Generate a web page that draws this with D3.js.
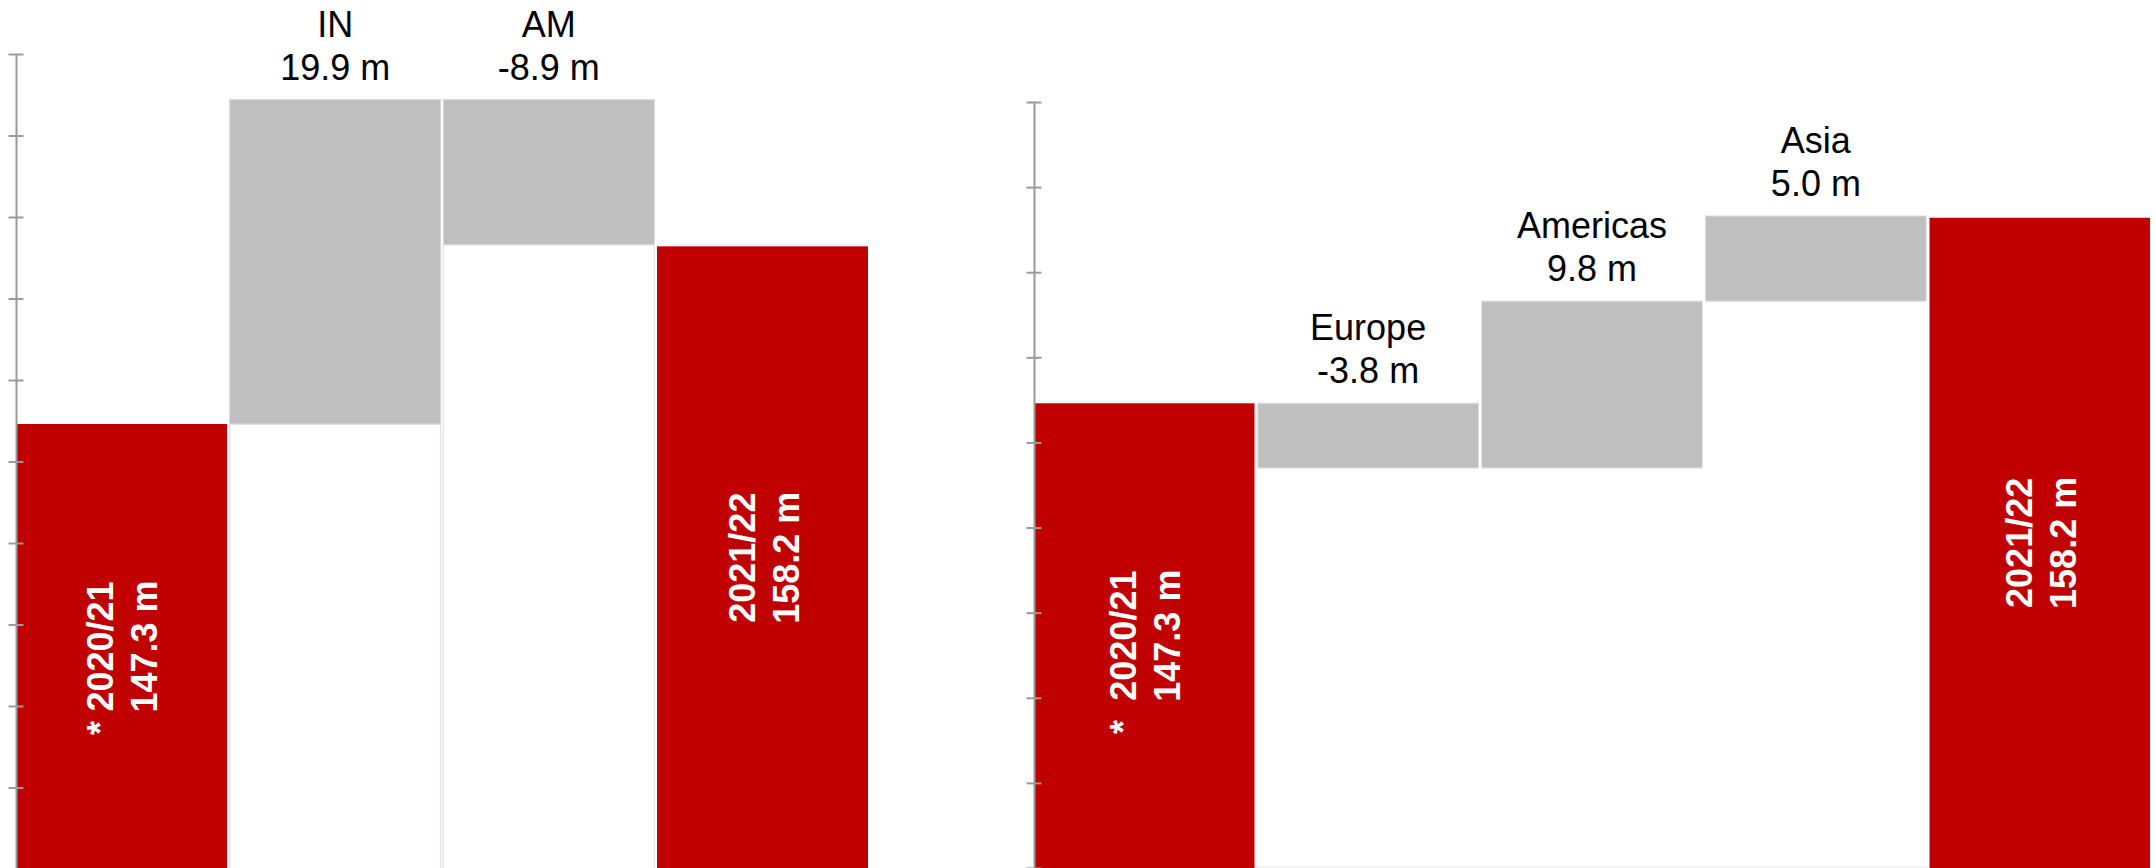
<!DOCTYPE html>
<html>
<head>
<meta charset="utf-8">
<script src="https://cdn.jsdelivr.net/npm/d3@7"></script>
<style>
  html, body { margin: 0; padding: 0; background: #ffffff; }
  svg { display: block; }
</style>
</head>
<body>
<svg id="chart" width="2156" height="868"></svg>
<script>
// Production bridge, 2020/21 -> 2021/22 (million units)
const leftCategories = ["2020/21", "IN", "AM", "2021/22"];
const leftValues = [147.3, 19.9, -8.9, 158.2];
const leftTicks = [120, 125, 130, 135, 140, 145, 150, 155, 160, 165, 170];

const rightCategories = ["2020/21", "Europe", "Americas", "Asia", "2021/22"];
const rightValues = [147.3, -3.8, 9.8, 5.0, 158.2];
const rightTicks = [120, 125, 130, 135, 140, 145, 150, 155, 160, 165];

const unitSuffix = " m";
const footnoteMark = "*";

const RED = "#c00000";
const GREY = "#bfbfbf";
const AXIS = "#9a9a9a";
const FONT = "'Liberation Sans', Arial, Helvetica, sans-serif";

const svg = d3.select("#chart");

// first and last entries are totals, the ones in between are changes
function buildSteps(cats, values, floor) {
  let run = 0;
  return cats.map((cat, i) => {
    const v = values[i];
    if (i === 0 || i === cats.length - 1) {
      run = v;
      return { cat, total: true, lo: floor, hi: v, value: v, first: i === 0 };
    }
    const start = run;
    run += v;
    return { cat, total: false, lo: Math.min(start, run), hi: Math.max(start, run), value: v };
  });
}

function drawWaterfall(opts) {
  const g = svg.append("g");
  const x = d3.scaleBand()
    .domain(opts.categories)
    .range(opts.xRange)
    .paddingInner(opts.padding)
    .paddingOuter(0);
  const y = d3.scaleLinear().domain(opts.yDomain).range(opts.yRange);
  const floor = opts.yDomain[0];
  const steps = buildSteps(opts.categories, opts.values, floor);
  const fmt = v => v.toFixed(1) + unitSuffix;

  // hidden base under each floating change bar
  g.selectAll("rect.base")
    .data(steps.filter(d => !d.total))
    .join("rect")
    .attr("class", "base")
    .attr("x", d => x(d.cat))
    .attr("width", x.bandwidth())
    .attr("y", d => y(d.lo))
    .attr("height", d => y(floor) - y(d.lo))
    .attr("fill", opts.baseStroke === "none" ? "none" : "#ffffff")
    .attr("stroke", opts.baseStroke)
    .attr("stroke-width", 1.5);

  if (opts.baseline) {
    g.append("line")
      .attr("x1", opts.xRange[0] - 8).attr("x2", opts.xRange[1])
      .attr("y1", y(floor) - 1).attr("y2", y(floor) - 1)
      .attr("stroke", "#efefef").attr("stroke-width", 1.5);
  }

  g.selectAll("rect.bar")
    .data(steps)
    .join("rect")
    .attr("class", "bar")
    .attr("x", d => x(d.cat))
    .attr("width", x.bandwidth())
    .attr("y", d => y(d.hi))
    .attr("height", d => y(d.lo) - y(d.hi))
    .attr("fill", d => d.total ? RED : GREY)
    .attr("stroke", d => d.total ? "none" : "#d9d9d9")
    .attr("stroke-width", 1);

  // labels above change bars
  const top = g.selectAll("g.chg")
    .data(steps.filter(d => !d.total))
    .join("g")
    .attr("class", "chg")
    .attr("transform", d => `translate(${x(d.cat) + x.bandwidth() / 2},${y(d.hi)})`);
  top.append("text")
    .attr("y", -63)
    .attr("text-anchor", "middle")
    .attr("font-family", FONT).attr("font-size", 36).attr("fill", "#000")
    .text(d => d.cat);
  top.append("text")
    .attr("y", -20)
    .attr("text-anchor", "middle")
    .attr("font-family", FONT).attr("font-size", 36).attr("fill", "#000")
    .text(d => fmt(d.value));

  // vertical labels inside total bars
  const tot = g.selectAll("g.tot")
    .data(steps.filter(d => d.total))
    .join("g")
    .attr("class", "tot");
  tot.each(function (d) {
    const cx = x(d.cat) + x.bandwidth() / 2;
    const cy = (y(d.hi) + y(d.lo)) / 2;
    const sel = d3.select(this);
    const lines = [d.cat, fmt(d.value)];
    const offs = [-8, 36];
    lines.forEach((t, i) => {
      sel.append("text")
        .attr("transform", `translate(${cx + offs[i]},${cy}) rotate(-90)`)
        .attr("text-anchor", "middle")
        .attr("font-family", FONT).attr("font-size", 36).attr("font-weight", "bold")
        .attr("fill", "#ffffff")
        .text(t);
    });
    if (d.first) {
      sel.append("text")
        .attr("transform", `translate(${cx + offs[0]},${y(d.lo) - 134}) rotate(-90)`)
        .attr("text-anchor", "start")
        .attr("font-family", FONT).attr("font-size", 36).attr("font-weight", "bold")
        .attr("fill", "#ffffff")
        .text(footnoteMark);
    }
  });

  // value axis without labels, ticks crossing the line
  const axis = g.append("g")
    .attr("transform", `translate(${opts.xRange[0]},0)`)
    .call(d3.axisLeft(y).tickValues(opts.ticks).tickSizeInner(0).tickSizeOuter(0).tickFormat(""));
  axis.select(".domain").attr("stroke", AXIS).attr("stroke-width", 2);
  axis.selectAll(".tick line")
    .attr("x1", -7.5).attr("x2", 7.5)
    .attr("stroke", AXIS).attr("stroke-width", 2);
}

drawWaterfall({
  categories: leftCategories,
  values: leftValues,
  ticks: leftTicks,
  xRange: [16, 868],
  padding: 0.0125,
  yDomain: [120, 170],
  yRange: [869, 54],
  baseStroke: "#e6e6e6",
  baseline: false
});

drawWaterfall({
  categories: rightCategories,
  values: rightValues,
  ticks: rightTicks,
  xRange: [1034, 2150],
  padding: 0.015,
  yDomain: [120, 165],
  yRange: [868, 102],
  baseStroke: "none",
  baseline: true
});
</script>
</body>
</html>
